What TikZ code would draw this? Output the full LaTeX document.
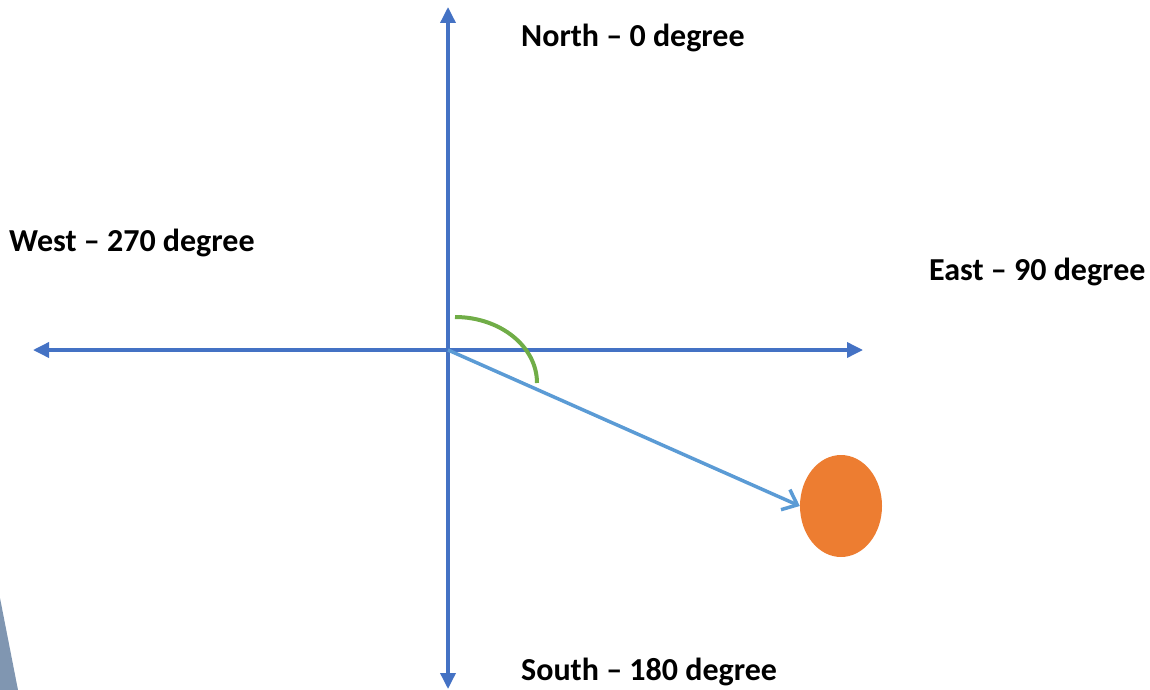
\documentclass[tikz,border=0pt]{standalone}
\usepackage{fontspec}
\setmainfont{Carlito}
\usetikzlibrary{arrows.meta,shapes.geometric}
\definecolor{axisblue}{HTML}{4472C4}
\definecolor{ptrblue}{HTML}{5B9BD5}
\definecolor{arcgreen}{HTML}{70AD47}
\definecolor{sunorange}{HTML}{ED7D31}
\definecolor{greyblue}{HTML}{8096B1}
\tikzset{
  axis/.style={draw=axisblue, line width=3.5pt, {Triangle[length=16pt,width=15pt]}-{Triangle[length=16pt,width=15pt]}},
  lbl/.style={font=\bfseries\fontsize{32}{36}\selectfont, inner sep=0pt, anchor=west},
}
\begin{document}
\begin{tikzpicture}[x=1pt,y=-1pt]
\useasboundingbox (0,0) rectangle (1150,690);
\fill[greyblue] (0,598) -- (18,690) -- (0,690) -- cycle;
\coordinate (O) at (448,350);
\coordinate (N) at (448,7);
\coordinate (S) at (448,689);
\coordinate (W) at (33,350);
\coordinate (E) at (863,350);
\draw[axis] (S) -- (N);
\draw[axis] (W) -- (E);
\draw[arcgreen, line width=4pt] (455,317) arc[start angle=90, end angle=0, x radius=82, y radius=-66];
\node[ellipse, fill=sunorange, minimum width=82pt, minimum height=102pt, inner sep=0pt] (sun) at (841,506) {};
\draw[ptrblue, line width=3.5pt, -{Straight Barb[length=13pt,width=22pt]}] (O) -- (sun.west);
\node[lbl] (north) at (521,38) {North – 0 degree};
\node[lbl] (west) at (9,243) {West – 270 degree};
\node[lbl] (east) at (929,272) {East – 90 degree};
\node[lbl] (south) at (521,672) {South – 180 degree};
\end{tikzpicture}
\end{document}
